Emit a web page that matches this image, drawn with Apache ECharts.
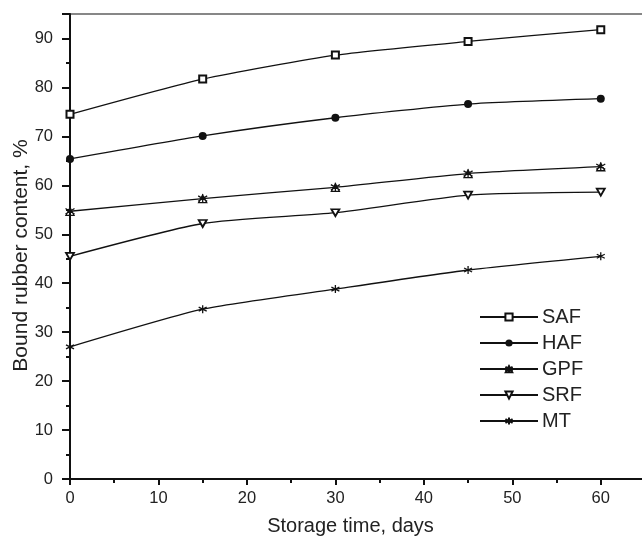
<!DOCTYPE html>
<html><head><meta charset="utf-8">
<script src="https://cdn.jsdelivr.net/npm/echarts@6/dist/echarts.min.js"></script>
<style>html,body{margin:0;padding:0;background:#fff}#c{width:642px;height:539px}</style>
</head><body><div id="c"></div>
<script>
const days = [0, 15, 30, 45, 60];
const SAF = [74.5, 81.7, 86.6, 89.4, 91.8];
const HAF = [65.4, 70.1, 73.8, 76.6, 77.7];
const GPF = [54.7, 57.3, 59.6, 62.4, 63.8];
const SRF = [45.5, 52.2, 54.4, 58.0, 58.6];
const MT = [27.0, 34.7, 38.8, 42.7, 45.5];
const seriesNames = ['SAF', 'HAF', 'GPF', 'SRF', 'MT'];
const xName = 'Storage time, days';
const yName = 'Bound rubber content, %';

const font = 'Liberation Sans, Arial, sans-serif';
const pair = arr => days.map((d, i) => [d, arr[i]]);
const styles = {
  SAF: {symbol: 'emptyRect', symbolSize: 7, itemStyle: {color: '#111', borderColor: '#111', borderWidth: 1}},
  HAF: {symbol: 'circle', symbolSize: 8, itemStyle: {color: '#111'}},
  GPF: {symbol: 'path://M5,1L9.5,9.5H0.5Z M0,2L10,8 M0,8L10,2 M5,0V10', symbolSize: 9,
        itemStyle: {color: 'rgba(255,255,255,0)', borderColor: '#111', borderWidth: 1.3}},
  SRF: {symbol: 'path://M0,0H10L5,9Z', symbolSize: [8, 7],
        itemStyle: {color: '#fff', borderColor: '#111', borderWidth: 1.8}},
  MT: {symbol: 'path://M5,0V10M0.7,2.5L9.3,7.5M0.7,7.5L9.3,2.5', symbolSize: 8,
       itemStyle: {color: 'rgba(255,255,255,0)', borderColor: '#111', borderWidth: 1.3}}
};
const dataMap = {SAF, HAF, GPF, SRF, MT};

const chart = echarts.init(document.getElementById('c'), null, {renderer: 'canvas'});
chart.setOption({
  animation: false,
  backgroundColor: '#fff',
  grid: {left: 70, top: 14, right: -3, bottom: 60, outerBoundsMode: 'none', containLabel: false,
         show: true, borderColor: '#111', borderWidth: 1.2},
  legend: {
    orient: 'vertical', left: 474, top: 302,
    itemWidth: 58, itemHeight: 9, itemGap: 6,
    textStyle: {fontFamily: font, fontSize: 20, color: '#222', lineHeight: 20, padding: [0,0,0,-1]},
    data: seriesNames
  },
  xAxis: {
    type: 'value', min: 0, max: 65, interval: 10,
    name: xName, nameLocation: 'middle', nameGap: 37, nameMoveOverlap: false,
    nameTextStyle: {fontFamily: font, fontSize: 20, color: '#222', padding: [0, 14, 0, 0]},
    axisLine: {lineStyle: {color: '#111', width: 2}},
    axisTick: {inside: false, length: 6, lineStyle: {color: '#111', width: 2}},
    minorTick: {show: true, splitNumber: 2, length: 4, lineStyle: {color: '#111', width: 2}},
    splitLine: {show: false},
    axisLabel: {fontFamily: font, fontSize: 16.5, color: '#222', margin: 11,
      formatter: v => (v % 10 === 0 && v <= 60) ? String(v) : ''}
  },
  yAxis: {
    type: 'value', min: 0, max: 95, interval: 10,
    name: yName, nameLocation: 'middle', nameGap: 38, nameMoveOverlap: false,
    nameTextStyle: {fontFamily: font, fontSize: 21, color: '#222', padding: [0, 18, 0, 0]},
    axisLine: {lineStyle: {color: '#111', width: 2}},
    axisTick: {inside: false, length: 8, lineStyle: {color: '#111', width: 2}},
    minorTick: {show: true, splitNumber: 2, length: 4, lineStyle: {color: '#111', width: 2}},
    splitLine: {show: false},
    axisLabel: {fontFamily: font, fontSize: 16.5, color: '#222', margin: 17,
      formatter: v => (v % 10 === 0 && v <= 90) ? String(v) : ''}
  },
  series: seriesNames.map(n => Object.assign({
    name: n, type: 'line', smooth: 0.2, data: pair(dataMap[n]),
    lineStyle: {color: '#111', width: 1.3}, showAllSymbol: true, clip: false, z: 3
  }, styles[n]))
});
</script></body></html>
